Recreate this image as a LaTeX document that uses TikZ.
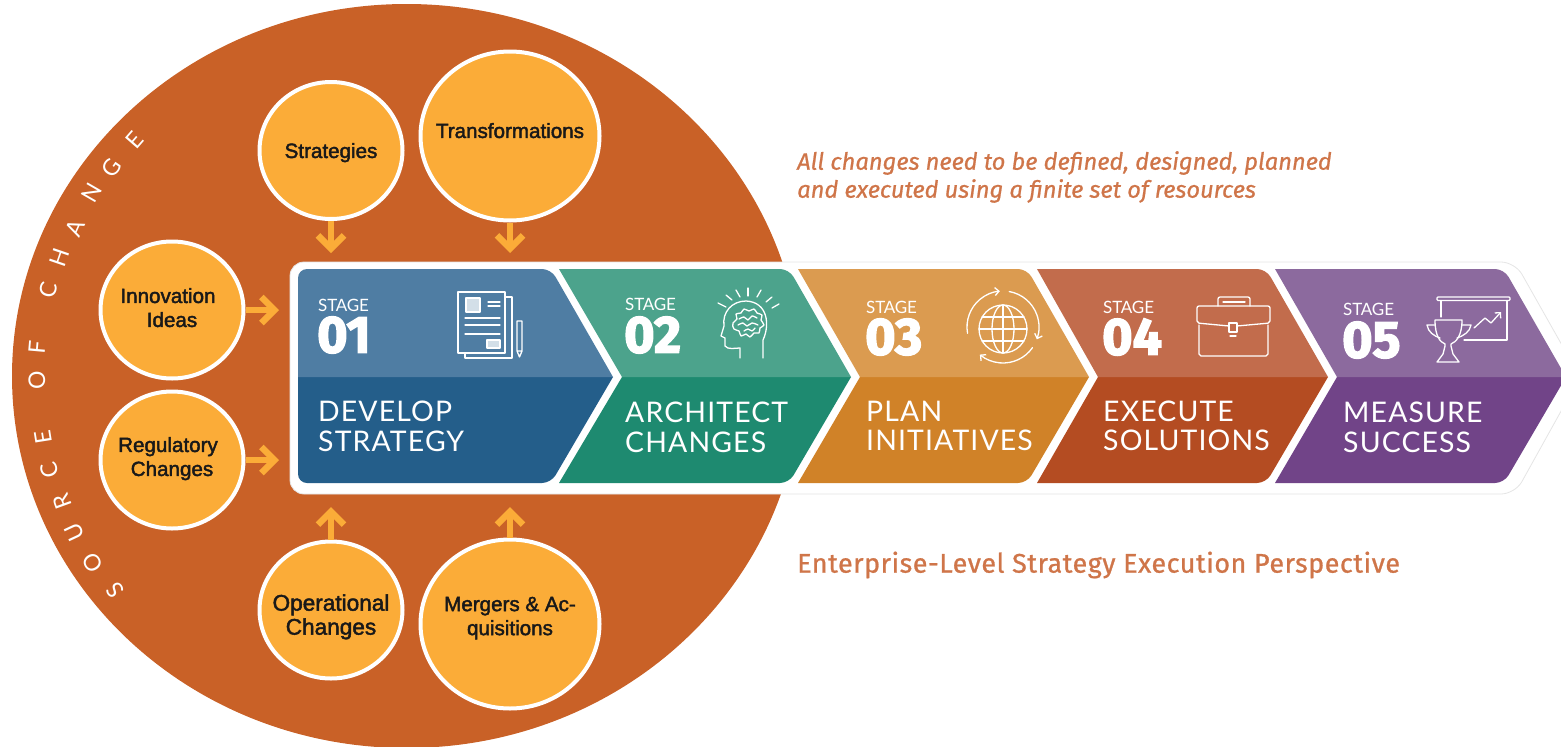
\documentclass[tikz,border=0pt]{standalone}
\usepackage{fontspec}
\setmainfont{Fira Sans}
\newfontfamily\bubblefont[FakeBold=2]{Liberation Sans}
\newfontfamily\capsfont[LetterSpace=4]{Lato}
\newfontfamily\stagefont[LetterSpace=-1]{Lato}
\newfontfamily\numberfont[FakeBold=3]{Fira Sans}
\newfontfamily\notefont[FakeBold=0.8]{Fira Sans}
\newfontfamily\perspectivefont[FakeBold=0.9,LetterSpace=2]{Fira Sans}
\usetikzlibrary{arrows.meta,shapes.geometric}
\definecolor{sourceorange}{HTML}{C96127}
\definecolor{bubbleorange}{HTML}{FBAC38}
\definecolor{notetext}{HTML}{CF7549}
\definecolor{blueup}{HTML}{4F7DA3}
\definecolor{bluedown}{HTML}{245E8A}
\definecolor{greenup}{HTML}{4CA38C}
\definecolor{greendown}{HTML}{1E8A70}
\definecolor{amberup}{HTML}{DB9B50}
\definecolor{amberdown}{HTML}{D08228}
\definecolor{rustup}{HTML}{C26C4C}
\definecolor{rustdown}{HTML}{B44C22}
\definecolor{purpleup}{HTML}{8C6A9E}
\definecolor{purpledown}{HTML}{714488}

\begin{document}
\begin{tikzpicture}[x=1pt,y=-1pt]
\tikzstyle{bubble}=[ellipse, draw=white, line width=4pt, fill=bubbleorange, inner xsep=-60pt, inner ysep=-20pt, align=center, font=\bubblefont\fontsize{20.6}{24}\selectfont, text=black!90]
\tikzstyle{small bubble}=[bubble, minimum width=143pt, minimum height=137pt]
\tikzstyle{big bubble}=[bubble, minimum width=179pt, minimum height=169pt]
\tikzstyle{feed}=[bubbleorange, line width=6.5pt, -{Straight Barb[length=13pt,width=26pt]}]
\tikzstyle{ring}=[white, font=\capsfont\fontsize{23}{23}\selectfont, inner sep=0pt]
\tikzstyle{stage word}=[white, anchor=west, inner sep=0pt, font=\stagefont\fontsize{17}{17}\selectfont]
\tikzstyle{stage number}=[white, anchor=west, inner sep=0pt, font=\numberfont\bfseries\fontsize{52}{52}\selectfont]
\tikzstyle{stage title}=[white, anchor=west, inner sep=0pt, align=left, font=\capsfont\fontsize{28.4}{29.5}\selectfont]
\tikzstyle{note}=[notetext, anchor=west, inner sep=0pt]
\tikzstyle{icon}=[white, line width=1.3pt, line join=round, line cap=round]
\useasboundingbox (0,0) rectangle (1561,747);
\fill [sourceorange] (406.6,376) ellipse [x radius=394.6, y radius=372];
\filldraw [draw=black!10, fill=white, line width=0.8pt, rounded corners=14] (290,377) -- (290,262) -- (1515,262) -- (1580,377) -- (1515,494) -- (290,494) -- cycle;
\fill [bluedown] (298,377) [rounded corners=9] -- (298,483) -- (551,483) [sharp corners] -- (613,377) -- cycle;
\fill [blueup] (298,377) [rounded corners=9] -- (298,269) -- (551,269) [sharp corners] -- (613,377) -- cycle;
\fill [greendown] (622,377) -- (559,483) [rounded corners=9] -- (789,483) [sharp corners] -- (851,377) -- cycle;
\fill [greenup] (622,377) -- (559,269) [rounded corners=9] -- (789,269) [sharp corners] -- (851,377) -- cycle;
\fill [amberdown] (860,377) -- (798,483) [rounded corners=9] -- (1027,483) [sharp corners] -- (1089,377) -- cycle;
\fill [amberup] (860,377) -- (798,269) [rounded corners=9] -- (1027,269) [sharp corners] -- (1089,377) -- cycle;
\fill [rustdown] (1098,377) -- (1037,483) [rounded corners=9] -- (1266,483) [sharp corners] -- (1328,377) -- cycle;
\fill [rustup] (1098,377) -- (1037,269) [rounded corners=9] -- (1266,269) [sharp corners] -- (1328,377) -- cycle;
\fill [purpledown] (1337,377) -- (1275,483) [rounded corners=9] -- (1504,483) [sharp corners] -- (1566,377) -- cycle;
\fill [purpleup] (1337,377) -- (1275,269) [rounded corners=9] -- (1504,269) [sharp corners] -- (1566,377) -- cycle;
\draw (331,150.5) node (strategies) [small bubble] {\mbox{}\\[-4.8pt]Strategies};
\draw (510,136) node (transformations) [big bubble] {Transformations\\[-13pt]\mbox{}};
\draw (172,310) node (innovation) [small bubble] {Innovation\hspace*{8pt}\\Ideas\hspace*{8pt}\\[-19pt]\mbox{}};
\draw (172,460) node (regulatory) [small bubble] {Regulatory\hspace*{8pt}\\Changes\hspace*{8pt}\\[-17pt]\mbox{}};
\draw (331,610) node (operational) [small bubble,font=\bubblefont\fontsize{22.6}{24}\selectfont] {\mbox{}\\[6pt]Operational\\Changes};
\draw (510,624) node (mergers) [big bubble] {Mergers \& Ac-\\quisitions\\[-8pt]\mbox{}};
\coordinate (strategiesend) at (331,253);
\coordinate (transformationsend) at (510,253);
\coordinate (innovationend) at (279,310);
\coordinate (regulatoryend) at (279,460);
\coordinate (operationalend) at (331,507);
\coordinate (mergersend) at (510,507);
\draw [feed] (strategies) -- (strategiesend);
\draw [feed] (transformations) -- (transformationsend);
\draw [feed] (innovation) -- (innovationend);
\draw [feed] (regulatory) -- (regulatoryend);
\draw [feed] (operational) -- (operationalend);
\draw [feed] (mergers) -- (mergersend);
\draw (115,590) node (ringa) [ring,rotate=126] {S};
\draw (93,563) node (ringb) [ring,rotate=121] {O};
\draw (75,532) node (ringc) [ring,rotate=115] {U};
\draw (62,502) node (ringd) [ring,rotate=110] {R};
\draw (50,470) node (ringe) [ring,rotate=105] {C};
\draw (43,437) node (ringf) [ring,rotate=99] {E};
\draw (37,380) node (ringg) [ring,rotate=90] {O};
\draw (37,347) node (ringh) [ring,rotate=85] {F};
\draw (48,290) node (ringi) [ring,rotate=76] {C};
\draw (60,258) node (ringj) [ring,rotate=71] {H};
\draw (75,228) node (ringk) [ring,rotate=66] {A};
\draw (92,193) node (ringl) [ring,rotate=60] {N};
\draw (112,168) node (ringm) [ring,rotate=55] {G};
\draw (135,140) node (ringn) [ring,rotate=49] {E};
\draw (318,305) node (stageworda) [stage word] {STAGE};
\draw (317,335) node (stagenuma) [stage number] {01};
\draw (318,426.5) node (titlea) [stage title] {DEVELOP\\STRATEGY};
\draw (625,304) node (stagewordb) [stage word] {STAGE};
\draw (624,335) node (stagenumb) [stage number] {02};
\draw (625,427.5) node (titleb) [stage title] {ARCHITECT\\CHANGES};
\draw (866,307) node (stagewordc) [stage word] {STAGE};
\draw (865,337) node (stagenumc) [stage number] {03};
\draw (866,426) node (titlec) [stage title] {PLAN\\INITIATIVES};
\draw (1103,307) node (stagewordd) [stage word] {STAGE};
\draw (1102,337) node (stagenumd) [stage number] {04};
\draw (1103,426) node (titled) [stage title] {EXECUTE\\SOLUTIONS};
\draw (1343,309) node (stageworde) [stage word] {STAGE};
\draw (1342,340) node (stagenume) [stage number] {05};
\draw (1343,427.5) node (titlee) [stage title] {MEASURE\\SUCCESS};
\draw (797,163) node (notea) [note,font=\notefont\itshape\fontsize{23.7}{24}\selectfont] {All changes need to be defined, designed, planned};
\draw (797,191) node (noteb) [note,font=\notefont\itshape\fontsize{23.7}{24}\selectfont] {and executed using a finite set of resources};
\draw (797,565) node (perspective) [note,font=\perspectivefont\fontsize{26.9}{27}\selectfont] {Enterprise-Level Strategy Execution Perspective};
\draw [icon] (505,297) -- (512,297) -- (512,358) -- (465,358) -- (465,353);
\draw [icon] (458,292) rectangle (505,353);
\draw [icon,fill=white!75!blueup] (466,298) rectangle (480,312);
\draw [icon] (488,302) -- (500,302);
\draw [icon] (488,306) -- (500,306);
\draw [icon] (465,318) -- (500,318);
\draw [icon] (465,325) -- (500,325);
\draw [icon] (465,334) -- (500,334);
\draw [icon,fill=white!75!blueup] (487,340) rectangle (500,348);
\draw [icon] (517,321) rectangle (522,351) -- (519.5,357) -- (517,351);
\draw [icon] (763,358) -- (763,340) .. controls (770,325) and (768,302) .. (746,301) .. controls (732,301) and (722,312) .. (724,326) -- (721,336) -- (725,338) -- (725,346) .. controls (728,350) and (735,348) .. (740,348) -- (740,358);
\draw [icon] plot [smooth cycle,tension=0.8] coordinates {(733,323) (737,319) (736,314) (741,313) (744,309) (749,311) (754,309) (757,313) (762,315) (761,320) (764,325) (760,328) (759,333) (754,333) (750,337) (746,334) (741,336) (739,331) (734,329)};
\draw [icon] plot [smooth] coordinates {(739,319) (744,317) (748,320) (752,316) (757,318)};
\draw [icon] plot [smooth] coordinates {(738,325) (743,323) (747,326) (752,323) (758,325)};
\draw [icon] plot [smooth] coordinates {(744,331) (748,329) (752,331) (755,328)};
\draw [icon] (718,303) -- (726,307);
\draw [icon] (726,295) -- (732,300);
\draw [icon] (736,290) -- (740,297);
\draw [icon] (748,288) -- (748,296);
\draw [icon] (761,290) -- (757,297);
\draw [icon] (772,297) -- (766,302);
\draw [icon] (779,304) -- (772,308);
\draw [icon] (1003,329) circle [radius=24];
\draw [icon] (1003,329) ellipse [x radius=11, y radius=24];
\draw [icon] (1003,305) -- (1003,353);
\draw [icon] (979,329) -- (1027,329);
\draw [icon] (982,317) -- (1024,317);
\draw [icon] (982,341) -- (1024,341);
\draw [icon,-{Straight Barb[length=4pt,width=8pt]}] (1003,327) ++(170:36) arc [start angle=170, end angle=265, radius=36];
\draw [icon,-{Straight Barb[length=4pt,width=8pt]}] (1003,327) ++(280:36) arc [start angle=280, end angle=380, radius=36];
\draw [icon,-{Straight Barb[length=4pt,width=8pt]}] (1003,327) ++(35:36) arc [start angle=35, end angle=130, radius=36];
\draw [icon] (1199,325) -- (1199,354) -- (1201,356) -- (1266,356) -- (1268,354) -- (1268,325);
\draw [icon,rounded corners=2] (1229,326) -- (1197,323) -- (1197,306) -- (1270,306) -- (1270,323) -- (1237,326);
\draw [icon,rounded corners=2] (1218,306) -- (1218,297) -- (1250,297) -- (1250,306);
\draw [icon] (1223,302) -- (1245,302);
\draw [icon] (1229,323) rectangle (1237,332);
\draw [icon] (1230,336) -- (1236,336);
\draw [icon,rounded corners=1] (1437,297) rectangle (1510,300.5);
\draw [icon] (1441,300.5) -- (1441,317);
\draw [icon] (1507,300.5) -- (1507,340) -- (1464,340);
\draw [icon,-{Straight Barb[length=4pt,width=8pt]}] (1474,328) -- (1485,318) -- (1491,323) -- (1501,312);
\draw [icon] (1435,320) -- (1462,320) .. controls (1462,336) and (1456,342) .. (1451,344) -- (1451,346) -- (1453,354) -- (1459,362) -- (1437,362) -- (1443,354) -- (1445,346) -- (1445,344) .. controls (1440,342) and (1435,336) .. (1435,320);
\draw [icon] (1435,325) -- (1427,325) .. controls (1428,332) and (1434,336) .. (1440,338);
\draw [icon] (1462,325) -- (1471,325) .. controls (1470,332) and (1463,336) .. (1457,338);
\end{tikzpicture}
\end{document}
